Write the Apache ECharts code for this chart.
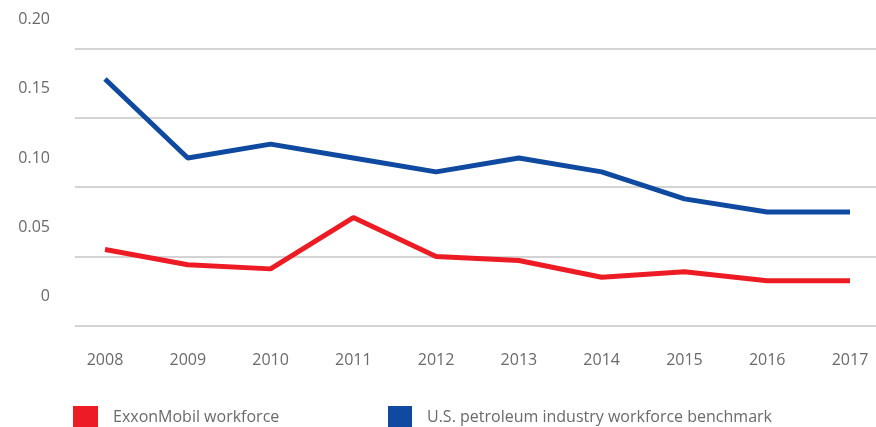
<!DOCTYPE html>
<html>
<head>
<meta charset="utf-8">
<script src="https://cdn.jsdelivr.net/npm/echarts@6/dist/echarts.min.js"></script>
<style>
html,body{margin:0;padding:0;background:#fff;}
#chart{width:876px;height:427px;}
</style>
</head>
<body>
<div id="chart"></div>
<script>
var years = ['2008','2009','2010','2011','2012','2013','2014','2015','2016','2017'];
var exxonWorkforce = [0.034, 0.023, 0.020, 0.057, 0.029, 0.026, 0.014, 0.018, 0.0115, 0.0115];
var usBenchmark = [0.157, 0.100, 0.110, 0.100, 0.090, 0.100, 0.090, 0.0705, 0.061, 0.061];
var yTickLabels = ['0', '0.05', '0.10', '0.15', '0.20'];
var seriesNames = ['ExxonMobil workforce', 'U.S. petroleum industry workforce benchmark'];

var RED = '#ED1C24', BLUE = '#0F4AA0', TXT = '#6a6a6a', FONT = 'Open Sans';

var chart = echarts.init(document.getElementById('chart'));
chart.setOption({
  animation: false,
  textStyle: { fontFamily: FONT },
  grid: [
    { left: 75, right: 0, top: 48.5, bottom: 101.3 },
    { left: 105, right: 26, top: 48.5, bottom: 101.3 }
  ],
  legend: [
    { left: 73, top: 406, padding: 0, icon: 'rect', itemWidth: 25, itemHeight: 22,
      data: [seriesNames[0]],
      textStyle: { color: TXT, fontSize: 16, fontFamily: FONT, padding: [4,0,0,10] } },
    { left: 388, top: 406, padding: 0, icon: 'rect', itemWidth: 24, itemHeight: 22,
      data: [seriesNames[1]],
      textStyle: { color: TXT, fontSize: 16, fontFamily: FONT, padding: [4,0,0,10] } }
  ],
  xAxis: [
    { gridIndex: 0, type: 'value', min: 0, max: 1, show: false },
    { gridIndex: 1, type: 'category', data: years, boundaryGap: false,
      axisLine: { show: false }, axisTick: { show: false },
      axisLabel: { color: TXT, fontSize: 16, margin: 27, fontFamily: FONT } }
  ],
  yAxis: [
    { gridIndex: 0, type: 'value', min: 0, max: 0.2, interval: 0.05,
      axisLine: { show: false }, axisTick: { show: false },
      splitLine: { show: true, lineStyle: { color: '#c4c4c4', width: 1.5 } },
      axisLabel: { color: TXT, fontSize: 16, margin: 25, fontFamily: FONT,
        verticalAlign: 'middle',
        formatter: function (v) { return '{t|' + yTickLabels[Math.round(v / 0.05)] + '}'; },
        rich: { t: { color: TXT, fontSize: 16, fontFamily: FONT, padding: [0, 0, 58, 0] } } } },
    { gridIndex: 1, type: 'value', min: -0.021, max: 0.179, show: false,
      splitLine: { show: false } }
  ],
  series: [
    { name: seriesNames[0], type: 'line', xAxisIndex: 1, yAxisIndex: 1,
      data: exxonWorkforce, showSymbol: false, symbol: 'none', color: RED,
      lineStyle: { color: RED, width: 5 } },
    { name: seriesNames[1], type: 'line', xAxisIndex: 1, yAxisIndex: 1,
      data: usBenchmark, showSymbol: false, symbol: 'none', color: BLUE,
      lineStyle: { color: BLUE, width: 5 } }
  ]
});
</script>
</body>
</html>
